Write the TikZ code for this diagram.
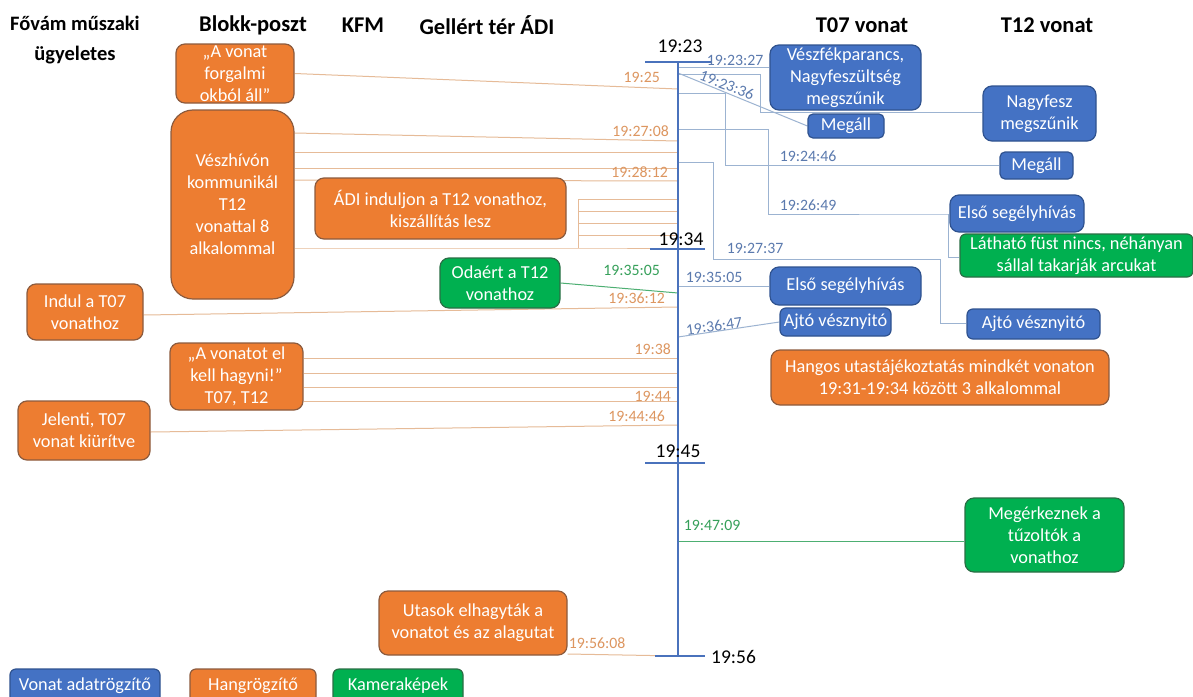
\documentclass[tikz,border=0pt]{standalone}
\usepackage{fontspec}
\setmainfont{Carlito}
\pgfdeclarelayer{background}
\pgfdeclarelayer{bottom}
\pgfsetlayers{bottom,background,main}
\definecolor{bF}{HTML}{4472C4}
\definecolor{bD}{HTML}{2F528F}
\definecolor{oF}{HTML}{ED7D31}
\definecolor{oD}{HTML}{8C5B3E}
\definecolor{gF}{HTML}{00B050}
\definecolor{gD}{HTML}{2A6E45}
\definecolor{bLine}{HTML}{9CB3D1}
\definecolor{bTxt}{HTML}{5B7AAE}
\definecolor{oLine}{HTML}{E6BB98}
\definecolor{oTxt}{HTML}{DD9660}
\definecolor{gLine}{HTML}{4DAF72}
\definecolor{gTxt}{HTML}{36A05A}
\definecolor{tlc}{HTML}{4A72BC}
\tikzset{
 box/.style={rounded corners=9pt, line width=1.2pt, text=white, align=center, inner sep=0pt, font=\fontsize{18.3}{22}\selectfont},
 bbox/.style={box, fill=bF, draw=bD},
 obox/.style={box, fill=oF, draw=oD},
 gbox/.style={box, fill=gF, draw=gD},
 hdr/.style={font=\bfseries\fontsize{22.5}{30}\selectfont, align=center, inner sep=0pt},
 ticklab/.style={font=\fontsize{19.5}{22}\selectfont, inner sep=0pt},
 tl/.style={draw=tlc, line width=2.6pt},
 bc/.style={draw=bLine, line width=1pt},
 oc/.style={draw=oLine, line width=1pt},
 gc/.style={draw=gLine, line width=1pt},
 bl/.style={text=bTxt, font=\fontsize{15.8}{17}\selectfont, inner sep=0pt},
 ol/.style={text=oTxt, font=\fontsize{15.8}{17}\selectfont, inner sep=0pt},
 gl/.style={text=gTxt, font=\fontsize{15.8}{17}\selectfont, inner sep=0pt},
}
\begin{document}
\begin{tikzpicture}[x=1pt,y=-1pt]
\useasboundingbox (0,0) rectangle (1193,696);
\begin{pgfonlayer}{bottom}
\fill[white] (0,0) rectangle (1193,696);
\end{pgfonlayer}

% headers
\node[hdr, font=\bfseries\fontsize{20.5}{30}\selectfont] (h1) at (75,40) {Fővám műszaki\\ügyeletes};
\node[hdr] (h2) at (253,25) {Blokk-poszt};
\node[hdr] (h3) at (363,25) {KFM};
\node[hdr] (h4) at (487,25) {Gellért tér ÁDI};
\node[hdr] (h5) at (862,25) {T07 vonat};
\node[hdr] (h6) at (1047,25) {T12 vonat};

% timeline
\coordinate (tTop) at (678,62);
\coordinate (tBot) at (678,656);
\draw[tl] (tTop) -- (tBot);
\draw[tl] (645,62) -- (711,62);
\draw[tl] (650,249) -- (705,249);
\draw[tl] (645,463) -- (705,463);
\draw[tl] (655,656) -- (705,656);
\node[ticklab] (k1) at (680,46) {19:23};
\node[ticklab] (k2) at (681,239) {19:34};
\node[ticklab] (k3) at (678,451) {19:45};
\node[ticklab, anchor=west] (k4) at (711,657) {19:56};

% left boxes
\node[obox, minimum width=118, minimum height=59] (a1) at (235,73.5) {„A vonat\\forgalmi\\okból áll”};
\node[obox, rounded corners=22pt, minimum width=123, minimum height=189] (a2) at (232.5,204.5) {Vészhívón\\kommunikál\\T12\\vonattal 8\\alkalommal};
\node[obox, minimum width=251, minimum height=61] (a3) at (440.5,208.5) {ÁDI induljon a T12 vonathoz,\\kiszállítás lesz};
\node[gbox, minimum width=120, minimum height=50] (a4) at (500,283) {Odaért a T12\\vonathoz};
\node[obox, minimum width=116, minimum height=56] (a5) at (85,312) {Indul a T07\\vonathoz};
\node[obox, minimum width=133, minimum height=67] (a6) at (236.5,376.5) {„A vonatot el\\kell hagyni!”\\T07, T12};
\node[obox, minimum width=132, minimum height=59] (a7) at (84,430.5) {Jelenti, T07\\vonat kiürítve};
\node[obox, minimum width=188, minimum height=64] (a8) at (473,623) {Utasok elhagyták a\\vonatot és az alagutat};

% right boxes
\node[bbox, minimum width=151, minimum height=65] (b1) at (845.5,77.5) {Vészfékparancs,\\Nagyfeszültség\\megszűnik};
\node[bbox, rounded corners=5pt, minimum width=76, minimum height=24] (b2) at (846,126) {Megáll};
\node[bbox, minimum width=113, minimum height=55] (b3) at (1039.5,113.5) {Nagyfesz\\megszűnik};
\node[bbox, rounded corners=5pt, minimum width=73, minimum height=27] (b4) at (1036.5,165.5) {Megáll};
\node[bbox, minimum width=134, minimum height=37] (b5) at (1017,213.5) {Első segélyhívás};
\node[gbox, rounded corners=6pt, minimum width=233, minimum height=43] (g1) at (1076.5,255.5) {Látható füst nincs, néhányan\\sállal takarják arcukat};
\node[bbox, minimum width=151, minimum height=38] (b6) at (845.5,286) {Első segélyhívás};
\node[bbox, rounded corners=6pt, minimum width=111, minimum height=28] (b7) at (835.5,322) {Ajtó vésznyitó};
\node[bbox, rounded corners=6pt, minimum width=133, minimum height=30] (b8) at (1033.5,324) {Ajtó vésznyitó};
\node[obox, minimum width=338, minimum height=55] (o9) at (940,377.5) {Hangos utastájékoztatás mindkét vonaton\\19:31-19:34 között 3 alkalommal};
\node[gbox, minimum width=159, minimum height=74] (g2) at (1044.5,535) {Megérkeznek a\\tűzoltók a\\vonathoz};

% legend
\node[bbox, rounded corners=6pt, minimum width=150, minimum height=34] (L1) at (85,686) {Vonat adatrögzítő};
\node[obox, rounded corners=6pt, minimum width=126, minimum height=34] (L2) at (253,686) {Hangrögzítő};
\node[gbox, rounded corners=6pt, minimum width=130, minimum height=34] (L3) at (398,686) {Kameraképek};

% bend coordinates
\coordinate (brT) at (578,199);
\coordinate (brB) at (578,248);
\coordinate (c1) at (760,74);
\coordinate (c1b) at (760,112);
\coordinate (c2) at (725,93);
\coordinate (c2b) at (725,165);
\coordinate (c3) at (768,129);
\coordinate (c3b) at (768,214);
\coordinate (c3c) at (948,214);
\coordinate (c3d) at (948,257);
\coordinate (c4) at (713,162);
\coordinate (c4b) at (713,259);
\coordinate (c4c) at (940,259);
\coordinate (c4d) at (940,323);

\begin{pgfonlayer}{background}
% orange connectors
\draw[oc] (a1.east) -- (tTop |- 0,89);
\draw[oc] (a2.east |- 0,133) -- (tTop |- 0,141);
\draw[oc] (a2.east |- 0,152) -- (tTop |- 0,152);
\draw[oc] (a2.east |- 0,168) -- (tTop |- 0,168);
\draw[oc] (a2.east |- 0,180) -- (tTop |- 0,181);
\draw[oc] (a2.east |- brB) -- (brB) -- (tTop |- brB);
\draw[oc] (brB) -- (brT) -- (tTop |- brT);
\draw[oc] (brT |- 0,211) -- (tTop |- 0,211);
\draw[oc] (brT |- 0,223) -- (tTop |- 0,223);
\draw[oc] (brT |- 0,235) -- (tTop |- 0,235);
\draw[gc] (a4.east) -- (tTop |- 0,293);
\draw[oc] (a5.east |- 0,315) -- (tTop |- 0,307);
\draw[oc] (a6.east |- 0,358) -- (tTop |- 0,358);
\draw[oc] (a6.east |- 0,373) -- (tTop |- 0,373);
\draw[oc] (a6.east |- 0,387) -- (tTop |- 0,387);
\draw[oc] (a6.east |- 0,401) -- (tTop |- 0,401);
\draw[oc] (a7.east |- 0,432) -- (tTop |- 0,425);
\draw[oc] (a8.east |- 0,654) -- (tTop |- 0,656);
% blue connectors
\draw[bc] (tTop |- 0,67) -- (b1.west |- 0,67);
\draw[bc] (tTop |- c1) -- (c1) -- (c1b) -- (b3.west |- c1b);
\draw[bc] (tTop |- 0,73) -- (b2.west);
\draw[bc] (tTop |- c2) -- (c2) -- (c2b) -- (b4.west |- c2b);
\draw[bc] (tTop |- c3) -- (c3) -- (c3b) -- (c3c) -- (b5.west |- c3c);
\draw[bc] (c3c) -- (c3d) -- (g1.west |- c3d);
\draw[bc] (tTop |- c4) -- (c4) -- (c4b) -- (c4c) -- (c4d) -- (b8.west |- c4d);
\draw[bc] (tTop |- 0,286) -- (b6.west |- 0,286);
\draw[bc] (tTop |- 0,337) -- (b7.west);
\draw[gc] (tTop |- 0,541) -- (g2.west |- 0,541);
\end{pgfonlayer}

% time labels
\node[ol, anchor=east] (l1) at (660,77) {19:25};
\node[ol, anchor=east] (l2) at (669,131) {19:27:08};
\node[ol, anchor=east] (l3) at (668,172) {19:28:12};
\node[gl, anchor=east] (l4) at (660,270) {19:35:05};
\node[ol, anchor=east] (l5) at (665,298) {19:36:12};
\node[ol, anchor=east] (l6) at (671,349) {19:38};
\node[ol, anchor=east] (l7) at (671,396) {19:44};
\node[ol, anchor=east] (l8) at (665,416) {19:44:46};
\node[ol] (l9) at (597,643) {19:56:08};
\node[bl] (m1) at (735,60) {19:23:27};
\node[bl, rotate=-21] (m2) at (727,85) {19:23:36};
\node[bl] (m3) at (808,156) {19:24:46};
\node[bl] (m4) at (808,205) {19:26:49};
\node[bl] (m5) at (755,248) {19:27:37};
\node[bl] (m6) at (714,277) {19:35:05};
\node[bl, rotate=8] (m7) at (714,326) {19:36:47};
\node[gl] (m8) at (712,525) {19:47:09};
\end{tikzpicture}
\end{document}
